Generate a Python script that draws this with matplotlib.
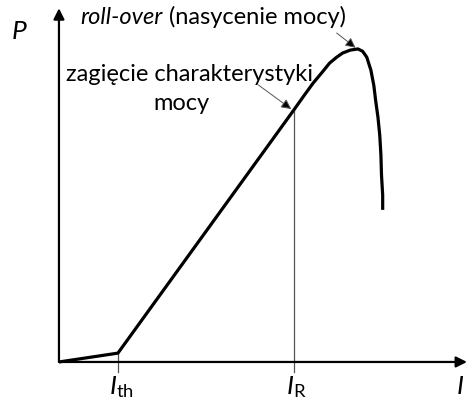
import numpy as np
import matplotlib
matplotlib.use("Agg")
import matplotlib.pyplot as plt

plt.rcParams['font.family'] = ['Lato', 'DejaVu Sans']
plt.rcParams['mathtext.fontset'] = 'custom'
plt.rcParams['mathtext.rm'] = 'Lato'
plt.rcParams['mathtext.it'] = 'Lato:italic'

# characteristic P(I) in arbitrary units (I_th = 1)
I_th = 1.0
I_R = 3.98
I_max = 6.92
P_max = 6.0

current = [0.0, 1.0, 3.98, 4.15, 4.31, 4.46, 4.59, 4.71, 4.81, 4.94, 5.07, 5.15,
           5.22, 5.29, 5.34, 5.37, 5.41, 5.44, 5.46, 5.47, 5.49, 5.49]
power = [0.0, 0.15, 4.27, 4.51, 4.73, 4.91, 5.07, 5.17, 5.24, 5.29, 5.31, 5.27,
         5.17, 4.95, 4.69, 4.44, 4.15, 3.85, 3.51, 3.17, 2.83, 2.58]

P_R = power[2]
peak = (current[10], power[10])

fig = plt.figure(figsize=(4.67, 4.05), dpi=100)
ax = fig.add_axes([0, 0, 1, 1])
ax.set_xlim(-1.0, 6.92)
ax.set_ylim(-0.73, 6.14)
ax.axis('off')

# axes with arrow heads
ax.annotate('', xy=(I_max, 0), xytext=(0, 0),
            arrowprops=dict(arrowstyle='-|>', lw=1.6, color='black',
                            mutation_scale=16, shrinkA=0, shrinkB=0))
ax.annotate('', xy=(0, P_max), xytext=(0, 0),
            arrowprops=dict(arrowstyle='-|>', lw=1.6, color='black',
                            mutation_scale=16, shrinkA=0, shrinkB=0))

# helper lines at I_th and I_R
ax.plot([I_th, I_th], [-0.17, power[1]], color='#555555', lw=0.9)
ax.plot([I_R, I_R], [-0.17, P_R], color='#555555', lw=0.9)

ax.plot(current, power, color='black', lw=2.3, solid_joinstyle='round',
        solid_capstyle='butt')

# annotations
arrow_kw = dict(arrowstyle='-|>', lw=0.7, mutation_scale=15, shrinkA=0,
                shrinkB=0, fc='black', ec='#555555')
ax.annotate('', xy=(I_R - 0.04, P_R + 0.02), xytext=(3.38, 4.7),
            arrowprops=arrow_kw)
ax.annotate('', xy=(peak[0] - 0.04, peak[1] + 0.02), xytext=(4.71, 5.58),
            arrowprops=arrow_kw)

fs = 17
t1 = ax.text(0.36, 5.85, 'roll-over', style='italic', fontsize=fs,
             va='center', ha='left')
ax.annotate(' (nasycenie mocy)', xy=(1, 0.5), xycoords=t1, fontsize=fs,
            va='center', ha='left')
ax.text(2.22, 4.88, 'zagięcie charakterystyki', fontsize=fs, va='center', ha='center')
ax.text(2.08, 4.38, 'mocy', fontsize=fs, va='center', ha='center')

lfs = 19
ax.text(-0.68, 5.6, 'P', style='italic', fontsize=lfs, va='center', ha='center')
ax.text(I_th + 0.05, -0.42, r'$I_{\mathrm{th}}$', fontsize=lfs, va='center', ha='center')
ax.text(I_R + 0.05, -0.42, r'$I_{\mathrm{R}}$', fontsize=lfs, va='center', ha='center')
ax.text(6.8, -0.42, r'$I$', fontsize=lfs, va='center', ha='center')

fig.savefig('out.png', dpi=100)
